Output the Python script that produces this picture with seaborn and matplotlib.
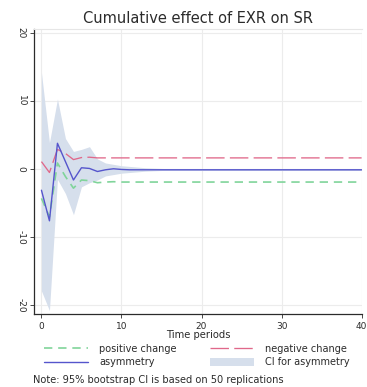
import matplotlib
matplotlib.use("Agg")
import matplotlib.pyplot as plt
import seaborn as sns
import numpy as np
import pandas as pd
from matplotlib.lines import Line2D
from matplotlib.patches import Patch

# ---- data ----
periods = list(range(0, 41))
positive_change = [-4.3, -7.0, 0.9, -1.1, -2.8, -1.6, -1.7, -2.0, -1.9, -1.85,
                   -1.9, -1.9, -1.9, -1.9, -1.9, -1.9, -1.9, -1.9, -1.9, -1.9,
                   -1.9, -1.9, -1.9, -1.9, -1.9, -1.9, -1.9, -1.9, -1.9, -1.9,
                   -1.9, -1.9, -1.9, -1.9, -1.9, -1.9, -1.9, -1.9, -1.9, -1.9, -1.9]
negative_change = [1.1, -0.5, 2.9, 2.3, 1.4, 1.7, 1.75, 1.65, 1.65, 1.65,
                   1.65, 1.65, 1.65, 1.65, 1.65, 1.65, 1.65, 1.65, 1.65, 1.65,
                   1.65, 1.65, 1.65, 1.65, 1.65, 1.65, 1.65, 1.65, 1.65, 1.65,
                   1.65, 1.65, 1.65, 1.65, 1.65, 1.65, 1.65, 1.65, 1.65, 1.65, 1.65]
asymmetry = [-3.1, -7.6, 3.8, 1.1, -1.6, 0.2, 0.1, -0.35, -0.1, 0.05,
             -0.05, -0.1, -0.1, -0.1, -0.1, -0.1, -0.1, -0.1, -0.1, -0.1,
             -0.1, -0.1, -0.1, -0.1, -0.1, -0.1, -0.1, -0.1, -0.1, -0.1,
             -0.1, -0.1, -0.1, -0.1, -0.1, -0.1, -0.1, -0.1, -0.1, -0.1, -0.1]
ci_upper = [14.2, 3.9, 10.3, 4.5, 2.6, 2.9, 3.3, 1.5, 0.9, 0.7,
            0.5, 0.4, 0.3, 0.2, 0.15, 0.1, 0.05, 0.0, 0.0, 0.0,
            0.0, 0.0, 0.0, 0.0, 0.0, 0.0, 0.0, 0.0, 0.0, 0.0,
            0.0, 0.0, 0.0, 0.0, 0.0, 0.0, 0.0, 0.0, 0.0, 0.0, 0.0]
ci_lower = [-17.9, -20.8, -1.5, -3.6, -6.7, -2.6, -2.0, -1.6, -1.0, -0.8,
            -0.6, -0.5, -0.4, -0.3, -0.25, -0.2, -0.2, -0.2, -0.2, -0.2,
            -0.2, -0.2, -0.2, -0.2, -0.2, -0.2, -0.2, -0.2, -0.2, -0.2,
            -0.2, -0.2, -0.2, -0.2, -0.2, -0.2, -0.2, -0.2, -0.2, -0.2, -0.2]
x_ticks = [0, 10, 20, 30, 40]
y_ticks = [-20, -10, 0, 10, 20]

df = pd.DataFrame({"t": periods, "pos": positive_change, "neg": negative_change,
                   "asym": asymmetry, "lo": ci_lower, "hi": ci_upper})

sns.set_theme(style="white")
plt.rcParams["font.family"] = ["DejaVu Sans"]

GREEN = "#80d49a"
RED = "#e0688a"
BLUE = "#5555cc"
BAND = "#d6dfec"
DARK = "#2b2b2b"

fig = plt.figure(figsize=(3.67, 3.87), dpi=100)
ax = fig.add_axes([34 / 367, 1 - 314 / 387, 328 / 367, 285 / 387])

ax.fill_between(df["t"], df["lo"], df["hi"], color=BAND, lw=0, zorder=1)
sns.lineplot(data=df, x="t", y="pos", ax=ax, color=GREEN, lw=1.2,
             linestyle=(0, (5, 3.5)), zorder=3)
sns.lineplot(data=df, x="t", y="neg", ax=ax, color=RED, lw=0.95,
             linestyle=(0, (14, 4)), zorder=3)
sns.lineplot(data=df, x="t", y="asym", ax=ax, color=BLUE, lw=1.0, zorder=4)

ax.set_xlim(-0.93, 40.05)
ax.set_ylim(-21.3, 20.6)
ax.set_xticks(x_ticks)
ax.set_yticks(y_ticks)
ax.set_xticklabels([str(v) for v in x_ticks], fontsize=6.5, color=DARK)
ax.set_yticklabels([str(v) for v in y_ticks], fontsize=6.5, color=DARK,
                   rotation=270, va="center")
ax.tick_params(axis="both", direction="out", length=3, width=0.6, color=DARK,
               pad=3, left=True, bottom=True)
ax.grid(True, color="#ececec", lw=0.8)
ax.set_axisbelow(True)
for s in ["left", "bottom"]:
    ax.spines[s].set_color(DARK)
    ax.spines[s].set_linewidth(0.9)
ax.spines["top"].set_color("#e6e6e6")
ax.spines["top"].set_linewidth(0.8)
ax.spines["right"].set_visible(False)

ax.set_xlabel("Time periods", fontsize=7.2, color=DARK, labelpad=-1)
ax.set_ylabel("")
ax.set_title("Cumulative effect of EXR on SR", fontsize=10.5, color=DARK, pad=4)

handles = [
    Line2D([], [], color=GREEN, lw=1.2, linestyle=(0, (5, 3.5))),
    Line2D([], [], color=BLUE, lw=1.0),
    Line2D([], [], color=RED, lw=0.95, linestyle=(0, (14, 4))),
    Patch(facecolor=BAND, edgecolor="none"),
]
labels = ["positive change", "asymmetry", "negative change", "CI for asymmetry"]
fig.legend(handles, labels, ncol=2, loc="upper left",
           bbox_to_anchor=(44 / 367, 1 - 344 / 387), frameon=False,
           fontsize=7, handlelength=4.5, handleheight=1.0, handletextpad=1.2,
           columnspacing=3.4, borderpad=0, borderaxespad=0, labelspacing=0.35,
           labelcolor=DARK)

fig.text(33 / 367, 1 - 380 / 387,
         "Note: 95% bootstrap CI is based on 50 replications",
         fontsize=7.1, color=DARK, va="center", ha="left")

fig.savefig("out.png", dpi=100)
